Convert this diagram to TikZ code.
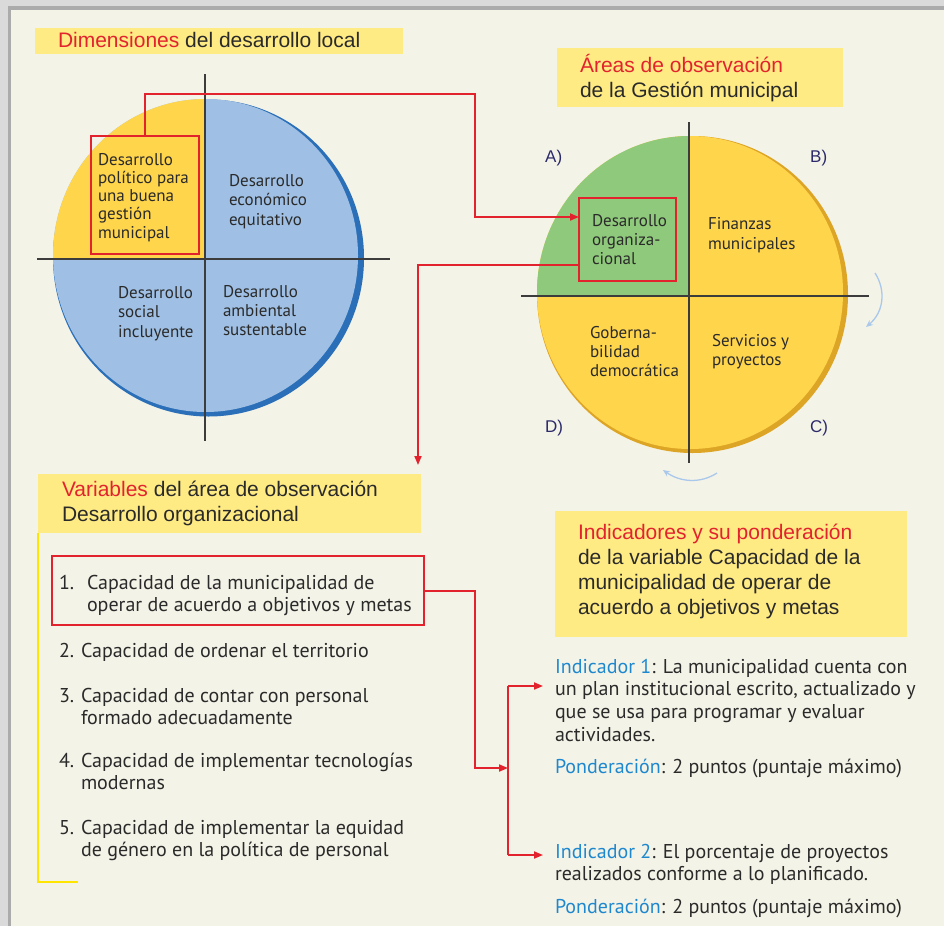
\documentclass[tikz,border=0pt]{standalone}
\usepackage{fontspec}
\setmainfont{PT Sans}
\newfontfamily\titlef{Liberation Sans}
\newfontfamily\bodyf{PT Sans}
\usetikzlibrary{arrows.meta}
\definecolor{cream}{HTML}{F4F3E7}
\definecolor{graylt}{HTML}{DADADA}
\definecolor{graydk}{HTML}{ABABAB}
\definecolor{titleyellow}{HTML}{FFEB84}
\definecolor{myred}{HTML}{E2232E}
\definecolor{circyellow}{HTML}{FFD54C}
\definecolor{goldedge}{HTML}{DDA526}
\definecolor{bluefill}{HTML}{9FC0E4}
\definecolor{bluedark}{HTML}{2A6FB8}
\definecolor{greenfill}{HTML}{8FC97B}
\definecolor{axisgray}{HTML}{3C3C3C}
\definecolor{textgray}{HTML}{2A2A2A}
\definecolor{navy}{HTML}{2B2A6B}
\definecolor{txtblue}{HTML}{1E88CF}
\definecolor{lightblue}{HTML}{A9C8EC}
\definecolor{lineyellow}{HTML}{FFE500}
\newcommand\myfs[2]{\fontsize{#1}{#2}\selectfont}
\newcommand\tstrut[1]{\rule{0pt}{#1pt}}
\begin{document}
\begin{tikzpicture}[x=1pt,y=-1pt,
  redline/.style={draw=myred, line width=1.8pt},
  arr/.style={-{Triangle[length=9pt,width=7pt]}},
  axisline/.style={draw=axisgray, line width=1.6pt},
  titlebox/.style={fill=titleyellow, inner sep=0pt, outer sep=0pt, anchor=north west},
  redbox/.style={draw=myred, line width=1.8pt, inner sep=0pt, outer sep=0pt, anchor=north west},
  txt/.style={anchor=north west, inner sep=0pt, outer sep=0pt, align=left, text=textgray},
  ttl/.style={txt, font=\titlef\myfs{21}{25.5}},
  circtxt/.style={txt, font=\bodyf\myfs{17}{19.3}},
  listtxt/.style={txt, font=\bodyf\myfs{20}{22.5}},
  indtxt/.style={txt, font=\bodyf\myfs{20}{22.7}},
  abcd/.style={anchor=base west, inner sep=0pt, text=navy, font=\titlef\myfs{17}{20}},
  curved/.style={draw=lightblue, line width=1.3pt, -{Stealth[length=7pt,width=6pt]}}
]
\useasboundingbox (0,0) rectangle (944,926);
% background panel
\fill[graylt] (0,0) rectangle (944,926);
\fill[graydk] (8,6) rectangle (944,926);
\fill[cream] (11,10) rectangle (944,926);

% ---------- Title 1
\node[titlebox, minimum width=368pt, minimum height=26pt] (t1box) at (35,28) {};
\node[ttl] (t1) at (58,47-21) {\tstrut{21}\textcolor{myred}{Dimensiones} del desarrollo local};

% ---------- Left circle
\fill[bluedark] (208.5,258) ellipse [x radius=155.5, y radius=158.5];
\begin{scope}
  \clip (205.5,255.5) ellipse [x radius=152.5, y radius=156.5];
  \fill[bluefill] (0,0) rectangle (500,500);
  \fill[circyellow] (0,0) rectangle (205,259);
\end{scope}
\draw[axisline] (205,74) -- (205,441);
\draw[axisline] (37,259) -- (390,259);
\node[redbox, minimum width=108pt, minimum height=118pt] (boxL) at (91,136) {};
\node[circtxt, font=\bodyf\myfs{17}{18.3}] (tpol) at (98,165-17) {\tstrut{17}Desarrollo\\político para\\una buena\\gestión\\municipal};
\node[circtxt, font=\bodyf\myfs{17}{19.5}] (teco) at (229,186-17) {\tstrut{17}Desarrollo\\económico\\equitativo};
\node[circtxt, font=\bodyf\myfs{17}{19.5}] (tsoc) at (118,298-17) {\tstrut{17}Desarrollo\\social\\incluyente};
\node[circtxt] (tamb) at (223,297-17) {\tstrut{17}Desarrollo\\ambiental\\sustentable};

% ---------- Title 2
\node[titlebox, minimum width=286pt, minimum height=59pt] (t2box) at (557,48) {};
\node[ttl, font=\titlef\myfs{21}{25}] (t2) at (580,72-21) {\tstrut{21}\textcolor{myred}{Áreas de observación}\\de la Gestión municipal};

% ---------- Right circle
\fill[goldedge] (692.5,294.5) ellipse [x radius=155.5, y radius=158.5];
\begin{scope}
  \clip (690,292.5) ellipse [x radius=153, y radius=156.5];
  \fill[circyellow] (500,100) rectangle (900,500);
  \fill[greenfill] (500,100) rectangle (689,296);
\end{scope}
\draw[axisline] (689,122) -- (689,463);
\draw[axisline] (521,296) -- (869,296);
\node[redbox, minimum width=97pt, minimum height=83pt] (boxR) at (579,198) {};
\node[circtxt, font=\bodyf\myfs{17}{19}] (torg) at (592,226-17) {\tstrut{17}Desarrollo\\organiza-\\cional};
\node[circtxt, font=\bodyf\myfs{17}{20}] (tfin) at (708,229-17) {\tstrut{17}Finanzas\\municipales};
\node[circtxt, font=\bodyf\myfs{17}{19.2}] (tgob) at (590,338-17) {\tstrut{17}Goberna-\\bilidad\\democrática};
\node[circtxt] (tser) at (712,346-17) {\tstrut{17}Servicios y\\proyectos};
\node[abcd] (lA) at (545,162) {A)};
\node[abcd] (lB) at (810,162) {B)};
\node[abcd] (lD) at (545,432) {D)};
\node[abcd] (lC) at (810,432) {C)};
\coordinate (r1) at (875,273);
\coordinate (r2) at (866,327);
\draw[curved] (r1) .. controls (886,290) and (884,312) .. (r2);
\coordinate (b1) at (717,473);
\coordinate (b2) at (663,470);
\draw[curved] (b1) .. controls (700,484) and (680,482) .. (b2);

% ---------- Title 3
\node[titlebox, minimum width=383pt, minimum height=59pt] (t3box) at (38,474) {};
\node[ttl] (t3) at (62,496-21) {\tstrut{21}\textcolor{myred}{Variables} del área de observación\\Desarrollo organizacional};
\draw[draw=lineyellow, line width=2pt] (t3box.south west) -- (38,882) -- (78,882);

% ---------- Variables list
\node[redbox, minimum width=372pt, minimum height=69pt] (box1) at (52,556) {};
\node[listtxt] (n1) at (59,589-20) {\tstrut{20}1.};
\node[listtxt] (v1) at (87,589-20) {\tstrut{20}Capacidad de la municipalidad de\\operar de acuerdo a objetivos y metas};
\node[listtxt] (n2) at (59,657-20) {\tstrut{20}2.};
\node[listtxt] (v2) at (81,657-20) {\tstrut{20}Capacidad de ordenar el territorio};
\node[listtxt] (n3) at (59,702-20) {\tstrut{20}3.};
\node[listtxt] (v3) at (81,702-20) {\tstrut{20}Capacidad de contar con personal\\formado adecuadamente};
\node[listtxt] (n4) at (59,767-20) {\tstrut{20}4.};
\node[listtxt] (v4) at (81,767-20) {\tstrut{20}Capacidad de implementar tecnologías\\modernas};
\node[listtxt] (n5) at (59,834-20) {\tstrut{20}5.};
\node[listtxt] (v5) at (81,834-20) {\tstrut{20}Capacidad de implementar la equidad\\de género en la política de personal};

% ---------- Title 4
\node[titlebox, minimum width=352pt, minimum height=126pt] (t4box) at (555,511) {};
\node[ttl, font=\titlef\myfs{21}{25.3}] (t4) at (578,539-21) {\tstrut{21}\textcolor{myred}{Indicadores y su ponderación}\\de la variable Capacidad de la\\municipalidad de operar de\\acuerdo a objetivos y metas};

% ---------- Indicators
\node[indtxt] (ind1) at (555,673-20) {\tstrut{20}\textcolor{txtblue}{Indicador 1}: La municipalidad cuenta con\\un plan institucional escrito, actualizado y\\que se usa para programar y evaluar\\actividades.};
\node[indtxt] (p1) at (555,773-20) {\tstrut{20}\textcolor{txtblue}{Ponderación}: 2 puntos (puntaje máximo)};
\node[indtxt] (ind2) at (555,858-20) {\tstrut{20}\textcolor{txtblue}{Indicador 2}: El porcentaje de proyectos\\realizados conforme a lo planificado.};
\node[indtxt] (p2) at (555,913-20) {\tstrut{20}\textcolor{txtblue}{Ponderación}: 2 puntos (puntaje máximo)};

% ---------- Connectors
\coordinate (c1) at (475,94);
\coordinate (c2) at (475,217);
\draw[redline, arr] (boxL.north) |- (c1) -- (c2) -- (c2 -| boxR.west);
\coordinate (c3) at (418,265);
\draw[redline, arr, shorten >=9pt] (c3 -| boxR.west) -- (c3) -- (c3 |- t3box.north);
\coordinate (c4) at (475,591);
\coordinate (c5) at (475,768);
\coordinate (j) at (508,768);
\draw[redline, arr] (c4 -| box1.east) -- (c4) -- (c5) -- (j);
\coordinate (jt) at (508,686);
\coordinate (jb) at (508,855);
\draw[redline] (jt) -- (jb);
\draw[redline, arr, shorten >=12pt] (jt) -- (jt -| ind1.west);
\draw[redline, arr, shorten >=12pt] (jb) -- (jb -| ind2.west);
\end{tikzpicture}
\end{document}
